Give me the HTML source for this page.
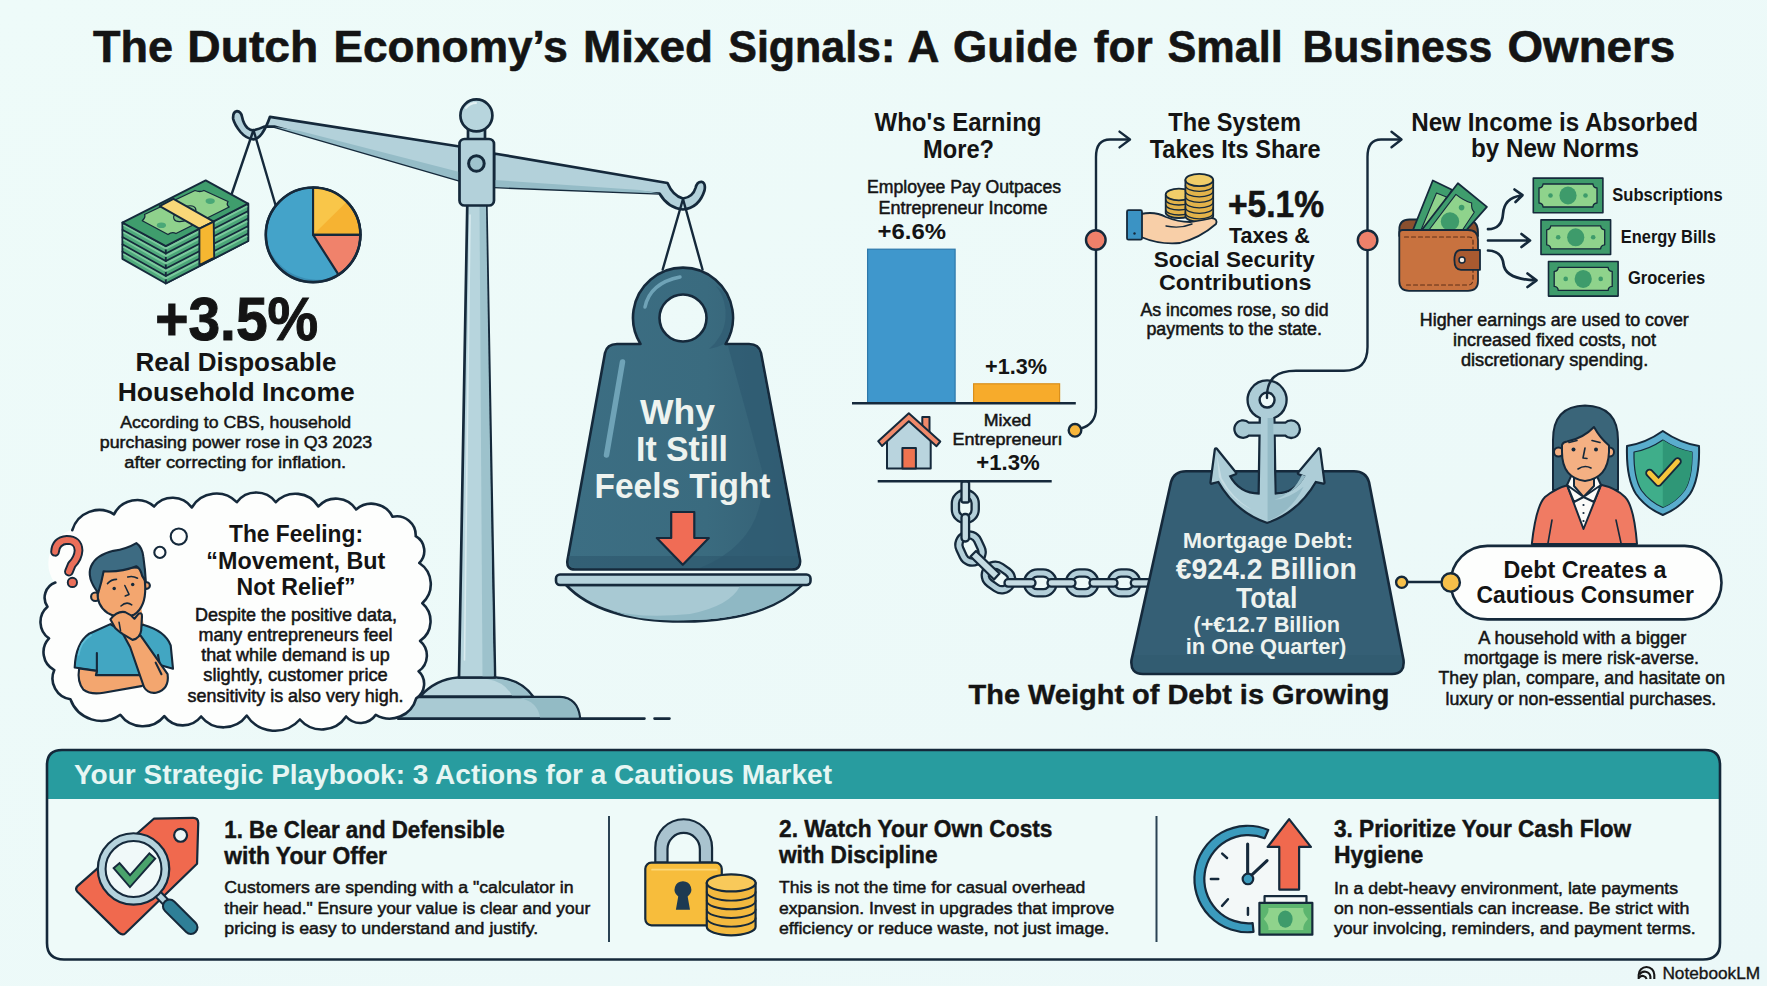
<!DOCTYPE html>
<html><head><meta charset="utf-8"><title>The Dutch Economy's Mixed Signals</title>
<style>
html,body{margin:0;padding:0;background:#eef8f8;}
body{width:1767px;height:986px;overflow:hidden;font-family:"Liberation Sans",sans-serif;}
svg{display:block;}
text{font-family:"Liberation Sans",sans-serif;fill:#141414;}
.b{font-weight:bold;}
.m{text-anchor:middle;}
</style></head><body>
<svg width="1767" height="986" viewBox="0 0 1767 986">
<defs>
<linearGradient id="bgg" x1="0" y1="0" x2="1" y2="1"><stop offset="0" stop-color="#eefbf9"/><stop offset="1" stop-color="#ebf8f8"/></linearGradient>
</defs>
<rect width="1767" height="986" fill="url(#bgg)"/>

<g class="b" font-size="43.5" stroke="#141414" stroke-width="0.6">
<text x="93.1" y="62" class="b" textLength="80.0" lengthAdjust="spacingAndGlyphs">The</text>
<text x="187.3" y="62" class="b" textLength="130.9" lengthAdjust="spacingAndGlyphs">Dutch</text>
<text x="333.5" y="62" class="b" textLength="234.3" lengthAdjust="spacingAndGlyphs">Economy’s</text>
<text x="583.1" y="62" class="b" textLength="129.9" lengthAdjust="spacingAndGlyphs">Mixed</text>
<text x="728.3" y="62" class="b" textLength="167.0" lengthAdjust="spacingAndGlyphs">Signals:</text>
<text x="907.6" y="62" class="b" textLength="31.9" lengthAdjust="spacingAndGlyphs">A</text>
<text x="953.0" y="62" class="b" textLength="124.6" lengthAdjust="spacingAndGlyphs">Guide</text>
<text x="1093.8" y="62" class="b" textLength="58.9" lengthAdjust="spacingAndGlyphs">for</text>
<text x="1167.4" y="62" class="b" textLength="115.3" lengthAdjust="spacingAndGlyphs">Small</text>
<text x="1302.4" y="62" class="b" textLength="189.8" lengthAdjust="spacingAndGlyphs">Business</text>
<text x="1507.5" y="62" class="b" textLength="167.8" lengthAdjust="spacingAndGlyphs">Owners</text>
</g>

<g class="m">
<text x="236.7" y="340" class="b m" font-size="61" textLength="163" lengthAdjust="spacingAndGlyphs" stroke="#141414" stroke-width="1">+3.5%</text>
<text x="236" y="371.3" class="b m" font-size="25.2" textLength="201" lengthAdjust="spacingAndGlyphs">Real Disposable</text>
<text x="236.2" y="400.7" class="b m" font-size="25.2" textLength="237" lengthAdjust="spacingAndGlyphs">Household Income</text>
<text x="235.7" y="427.7" class="m" font-size="17.4" textLength="231" lengthAdjust="spacingAndGlyphs" stroke="#141414" stroke-width="0.500">According to CBS, household</text>
<text x="236" y="448.3" class="m" font-size="17.4" textLength="272.5" lengthAdjust="spacingAndGlyphs" stroke="#141414" stroke-width="0.500">purchasing power rose in Q3 2023</text>
<text x="235.2" y="467.7" class="m" font-size="17.4" textLength="222" lengthAdjust="spacingAndGlyphs" stroke="#141414" stroke-width="0.500">after correcting for inflation.</text>
</g>

<g stroke="#15293b" stroke-width="2.7" stroke-linejoin="round" stroke-linecap="round">
<!-- ground line -->
<path d="M400 718.6 H644.5 M654.5 718.6 H669.5" fill="none" stroke-width="2.6"/>
<!-- base plate -->
<path d="M398 718.6 V697 H560 Q578 698 580 718.6 Z" fill="#a9cad3"/>
<path d="M520 698 Q538 702 540 717.5 H579 Q577 699 560 698 Z" fill="#93bbc5" stroke="none"/>
<!-- dome -->
<path d="M420 696.5 Q436 679 458 677.5 H496 Q520 679 533 696.5 Z" fill="#bad6de"/>
<path d="M487 679 Q505 682 512 695.5 H531 Q519 680 496 678.7 Z" fill="#9cc1cb" stroke="none"/>
<!-- pole -->
<path d="M467.3 204 L459 677.5 H495 L486.3 204 Z" fill="#b7d5dd"/>
<path d="M479.5 206 L482.5 676.3 H493.7 L486 206 Z" fill="#9dc2cc" stroke="none"/>
<path d="M470 215 L464.5 660" stroke="#d9ebef" stroke-width="1.6" fill="none"/>
<!-- left beam -->
<path d="M459.500 146.500 L270 116.800 Q266.500 127 262 133.500 Q258 139 253.500 139.400 Q246 138.500 240.500 132 Q234.500 124.500 233.200 119 Q232.500 112 237 111.200 Q241 111.500 242.100 117 Q243.500 124 247.500 128 Q250.500 130.500 253.600 130.300 Q259 129 264.100 126.600 L274.400 126.600 L459.500 180.500 Z" fill="#b3d1da"/>
<path d="M459.500 172 L300 131 L274.400 126.800 L459.500 180.500 Z" fill="#95bcc7" stroke="none"/>
<!-- right beam -->
<path d="M494 153.5 L667.5 183 Q673 196 683 198.5 Q693 197 695.5 188 Q697 181.5 701.5 181.8 Q706 183 704.5 190.5 Q699 208 683 209.5 Q668 208 659.5 193.5 L494 187 Z" fill="#b3d1da"/>
<path d="M494 180 L640 190 L659.5 193.5 L494 187 Z" fill="#95bcc7" stroke="none"/>
<!-- ball + neck -->
<rect x="468" y="127" width="17" height="15" fill="#b7d5dd"/>
<circle cx="476.4" cy="115.4" r="16" fill="#b7d5dd"/>
<path d="M466 108 Q470 103 476 103" stroke="#e3f1f4" stroke-width="2" fill="none"/>
<!-- hub -->
<rect x="459.5" y="139" width="34.5" height="66.5" rx="5" fill="#b3d1da"/>
<circle cx="476.4" cy="163.5" r="7.8" fill="#9fc3cd" stroke-width="3"/>
<!-- strings left -->
<path d="M253.500 130 L231.700 194 M253.500 130 L275.500 205" fill="none" stroke-width="2.4"/>
<!-- strings right -->
<path d="M683 199 L662.7 269.5 M683 199 L702.5 269.5" fill="none" stroke-width="2.4"/>
</g>

<defs>
<linearGradient id="wg" x1="0" y1="0" x2="1" y2="0"><stop offset="0" stop-color="#3c6e83"/><stop offset="0.6" stop-color="#3a6b7f"/><stop offset="1" stop-color="#345f74"/></linearGradient>
</defs>
<g stroke="#15293b" stroke-width="2.6" stroke-linejoin="round" stroke-linecap="round">
<!-- pan -->
<path d="M566 585 Q600 621 683 621.5 Q766 621 802 585 Z" fill="#a8c9d3"/>
<path d="M740 586 Q730 606 690 614 Q640 619 610 610 Q640 622 683 620.3 Q764 620 799.5 586 Z" fill="#8fb8c4" stroke="none"/>
<rect x="556" y="574.5" width="254.5" height="10.5" rx="4" fill="#b5d3dc"/>
<!-- weight body + ring -->
<path fill-rule="evenodd" fill="url(#wg)" d="M617 344 H640.5 A50 50 0 1 1 725.5 344 H749 Q759 344 761 353 L800 560 Q801 569.5 792 569.5 H575 Q566 569.5 567.5 560 L605 353 Q607 344 617 344 Z M683 294.5 A23.5 23.5 0 1 0 683 341.5 A23.5 23.5 0 1 0 683 294.5 Z"/>
<!-- shading -->
<path d="M728 346 H749 Q758 346 759.5 353 L798.5 560 Q799 568 792 568 H700 Q768 540 762 470 Z" fill="#2f5b72" stroke="none" opacity="0.75"/>
<path d="M568.5 556 L569 562 Q569 568 576 568 H792 Q799 568 798.5 560 L798 556 Z" fill="#2d566c" stroke="none" opacity="0.6"/>
<path d="M716 286 A45 45 0 0 1 709 349 A49 49 0 0 0 724 344 A48 48 0 0 0 723 291 Z" fill="#2f5b72" stroke="none" opacity="0.7"/>
<!-- highlights -->
<path d="M622.500 362 L606.500 455" stroke="#6fa3b7" stroke-width="5.500" fill="none"/>
<path d="M645 307 Q650 283 680 277" stroke="#6fa3b7" stroke-width="3.5" fill="none"/>
<!-- arrow -->
<path d="M671.200 512 H694.300 V538 H708.800 L682.800 564.800 L656.800 538 H671.200 Z" fill="#f06c55" stroke-width="2.200"/>
</g>
<g class="b m" style="fill:#eef3ef">
<text x="677.5" y="423.5" class="b m" font-size="34.200" textLength="75" lengthAdjust="spacingAndGlyphs" style="fill:#eef3ef">Why</text>
<text x="682" y="461" class="b m" font-size="34.200" textLength="92" lengthAdjust="spacingAndGlyphs" style="fill:#eef3ef">It Still</text>
<text x="682.5" y="497.5" class="b m" font-size="34.200" textLength="176" lengthAdjust="spacingAndGlyphs" style="fill:#eef3ef">Feels Tight</text>
</g>

<g stroke="#15293b" stroke-width="2.2" stroke-linejoin="round" stroke-linecap="round">
<!-- pie -->
<circle cx="313.1" cy="234.8" r="47.3" fill="#44a3c9"/>
<path d="M268 246 A47 47 0 0 0 336 276 A52 52 0 0 1 268 246 Z" fill="#3a8db3" stroke="none"/>
<path d="M313.1 234.8 V187.5 A47.3 47.3 0 0 1 360.4 234.8 Z" fill="#f6b332"/>
<path d="M314.5 233.5 V189 A46 46 0 0 1 346 202.5 Z" fill="#f9c649" stroke="none"/>
<path d="M313.1 234.8 H360.4 A47.3 47.3 0 0 1 338.5 274.7 Z" fill="#f0826b"/>
<circle cx="313.1" cy="234.8" r="47.3" fill="none" stroke-width="2.6"/>
<!-- money stack -->
<g stroke-width="1.9">
<path d="M122.400 222.600 V258.800 L165.800 283.500 L248.200 241 V203.600 L165.800 246.100 Z" fill="#4faa7c"/>
<path d="M165.800 246.100 V283.500 L248.200 241 V203.600 Z" fill="#4ba678"/>
<g fill="none" stroke="#7cc99d" stroke-width="2.200" stroke-linecap="butt">
<path d="M123.500 224.9 L165.800 248.4 L247.200 205.9 M123.500 232.1 L165.800 255.9 L247.200 213.4 M123.500 239.4 L165.800 263.4 L247.200 220.9 M123.500 246.6 L165.800 270.8 L247.200 228.3 M123.500 253.9 L165.800 278.3 L247.200 235.8 "/>
</g>
<g fill="none" stroke-width="1.700">
<path d="M122.400 229.8 L165.800 253.6 L248.200 211.1 M122.400 237.1 L165.800 261.1 L248.200 218.6 M122.400 244.3 L165.800 268.5 L248.200 226.0 M122.400 251.6 L165.800 276.0 L248.200 233.5 "/>
</g>
<path d="M122.400 222.600 L205.700 180.400 L248 203.600 L165.800 246.100 Z" fill="#3f9d6d"/>
<path d="M142.300 220.700 Q146 217 144.500 214.500 L195 190.500 Q200 192.500 204 190.500 L228 201.500 Q226 205 229.200 207 L176 233.500 Q172 231.500 168 234.500 L142.300 220.700 Z" fill="#8fd18c" stroke-width="1.300"/>
<ellipse cx="161.400" cy="225.200" rx="4.600" ry="2.800" fill="#4aa877" stroke="none"/>
<ellipse cx="210.200" cy="201.100" rx="4.600" ry="2.800" fill="#4aa877" stroke="none"/>
<ellipse cx="184.800" cy="213.700" rx="12" ry="6.500" fill="#7cc483" stroke-width="1.200" transform="rotate(-27 184.800 213.700)"/>
<path d="M159.700 206.100 L173.400 198.900 L213.700 221.700 L199.400 228.600 Z" fill="#f9d878"/>
<path d="M199.400 228.600 L213.700 221.700 L214.200 257.500 L199.400 265.100 Z" fill="#f5b731"/>
</g>
</g>

<path d="M72.3 530.2 A28.0 28.0 0 0 1 114.0 514.3 A25.8 25.8 0 0 1 154.1 506.5 A23.8 23.8 0 0 1 191.8 507.5 A28.6 28.6 0 0 1 236.8 502.2 A24.5 24.5 0 0 1 275.8 502.2 A27.0 27.0 0 0 1 318.4 506.5 A23.8 23.8 0 0 1 356.1 509.5 A23.5 23.5 0 0 1 392.6 516.8 A19.0 19.0 0 0 1 415.7 536.2 A17.0 17.0 0 0 1 419.3 563.0 A25.4 25.4 0 0 1 422.3 603.2 A23.8 23.8 0 0 1 420.1 640.9 A19.2 19.2 0 0 1 418.6 671.3 A17.1 17.1 0 0 1 416.2 698.3 A27.5 27.5 0 0 1 375.8 714.8 A18.7 18.7 0 0 1 346.1 716.5 A29.2 29.2 0 0 1 299.9 719.5 A33.5 33.5 0 0 1 246.8 715.6 A28.8 28.8 0 0 1 201.1 716.5 A23.2 23.2 0 0 1 164.3 716.1 A27.8 27.8 0 0 1 120.3 714.8 A32.9 32.9 0 0 1 70.4 699.3 A21.0 21.0 0 0 1 54.3 670.1 A20.2 20.2 0 0 1 49.0 638.4 A20.0 20.0 0 0 1 47.5 606.8 A16.1 16.1 0 0 1 55.3 582.5 A34.7 34.7 0 0 1 72.3 530.2 Z" fill="#fdfefd" stroke="#fdfefd" stroke-width="1.5"/>
<path d="M72.3 530.2 A28.0 28.0 0 0 1 114.0 514.3 A25.8 25.8 0 0 1 154.1 506.5 A23.8 23.8 0 0 1 191.8 507.5 A28.6 28.6 0 0 1 236.8 502.2 A24.5 24.5 0 0 1 275.8 502.2 A27.0 27.0 0 0 1 318.4 506.5 A23.8 23.8 0 0 1 356.1 509.5 A23.5 23.5 0 0 1 392.6 516.8 A19.0 19.0 0 0 1 415.7 536.2 A17.0 17.0 0 0 1 419.3 563.0 A25.4 25.4 0 0 1 422.3 603.2 A23.8 23.8 0 0 1 420.1 640.9 A19.2 19.2 0 0 1 418.6 671.3 A17.1 17.1 0 0 1 416.2 698.3 A27.5 27.5 0 0 1 375.8 714.8 A18.7 18.7 0 0 1 346.1 716.5 A29.2 29.2 0 0 1 299.9 719.5 A33.5 33.5 0 0 1 246.8 715.6 A28.8 28.8 0 0 1 201.1 716.5 A23.2 23.2 0 0 1 164.3 716.1 A27.8 27.8 0 0 1 120.3 714.8 A32.9 32.9 0 0 1 70.4 699.3 A21.0 21.0 0 0 1 54.3 670.1 A20.2 20.2 0 0 1 49.0 638.4 A20.0 20.0 0 0 1 47.5 606.8 A16.1 16.1 0 0 1 55.3 582.5 " fill="none" stroke="#15293b" stroke-width="2.6" stroke-linejoin="round" stroke-linecap="round"/>
<g transform="translate(40,520) scale(0.19277)" stroke="#15293b" stroke-width="11" stroke-linejoin="round" stroke-linecap="round">
<!-- question mark -->
<path d="M78 165 Q82 108 140 103 Q198 103 200 158 Q198 198 165 232 L150 268" fill="none" stroke-width="50"/>
<path d="M78 165 Q82 108 140 103 Q198 103 200 158 Q198 198 165 232 L150 268" fill="none" stroke="#ea6f5a" stroke-width="30"/>
<circle cx="168" cy="324" r="24" fill="#ea6f5a" stroke-width="10"/>
<!-- thought circles -->
<circle cx="720" cy="86" r="42" fill="#fdfefd"/>
<circle cx="622" cy="168" r="29" fill="#fdfefd"/>
<!-- neck -->
<path d="M372 470 L365 560 L540 560 L525 450 Z" fill="#f3a66f" stroke="none"/>
<!-- shirt -->
<path d="M180 765 Q185 640 255 590 L365 540 Q450 600 535 543 Q650 575 678 650 L690 772 L622 752 L605 805 L290 805 L295 782 Z" fill="#42a6c2"/>
<path d="M200 700 Q210 630 265 598" fill="none" stroke="#5fbdd6" stroke-width="9"/>
<path d="M295 690 L295 782 M622 752 L612 700" fill="none"/>
<!-- left arm folded -->
<path d="M203 770 Q192 840 225 880 Q262 908 330 896 L525 862 Q562 850 545 805 L290 805 L295 783 Z" fill="#f3a66f"/>
<!-- right forearm -->
<path d="M430 590 L522 600 L662 800 Q672 880 602 896 Q560 902 540 868 L468 660 Z" fill="#f3a66f"/>
<path d="M600 740 L630 800" fill="none"/>
<!-- ears -->
<circle cx="287" cy="398" r="22" fill="#f3a66f"/>
<circle cx="553" cy="340" r="17" fill="#f3a66f"/>
<!-- face -->
<path d="M300 370 Q292 440 350 482 Q420 522 490 490 Q548 450 546 350 L540 250 Q450 240 330 260 Z" fill="#f3a66f"/>
<!-- hair -->
<path d="M302 378 Q240 300 265 240 Q290 182 380 160 Q450 150 500 120 Q530 140 536 190 Q546 260 549 322 L530 290 Q520 250 500 240 Q420 272 330 266 Q320 322 302 378 Z" fill="#3d6b82"/>
<!-- hand -->
<path d="M365 515 Q400 470 442 478 Q470 490 490 512 L512 486 Q530 478 529 500 L525 572 Q520 612 480 622 L430 592 Q402 572 390 560 Z" fill="#f3a66f"/>
<path d="M410 530 L418 575" fill="none" stroke-width="8"/>
<!-- features -->
<circle cx="385" cy="355" r="9" fill="#15293b" stroke="none"/>
<circle cx="481" cy="335" r="9" fill="#15293b" stroke="none"/>
<path d="M350 330 Q370 308 397 308 M455 296 Q480 288 506 302 M440 340 L462 386 L442 394 M420 446 Q448 420 476 440" fill="none" stroke-width="8"/>
</g>
<g>
<text x="296" y="542.100" class="b m" font-size="24" textLength="134" lengthAdjust="spacingAndGlyphs">The Feeling:</text>
<text x="295.8" y="568.900" class="b m" font-size="24" textLength="179" lengthAdjust="spacingAndGlyphs">“Movement, But</text>
<text x="296" y="594.700" class="b m" font-size="24" textLength="119" lengthAdjust="spacingAndGlyphs">Not Relief”</text>
<g stroke="#141414" stroke-width="0.550">
<text x="296" y="621.300" class="m" font-size="18.600" textLength="202" lengthAdjust="spacingAndGlyphs">Despite the positive data,</text>
<text x="295.5" y="641.300" class="m" font-size="18.600" textLength="194" lengthAdjust="spacingAndGlyphs">many entrepreneurs feel</text>
<text x="295.4" y="661.400" class="m" font-size="18.600" textLength="188.5" lengthAdjust="spacingAndGlyphs">that while demand is up</text>
<text x="295.5" y="681.400" class="m" font-size="18.600" textLength="184.5" lengthAdjust="spacingAndGlyphs">slightly, customer price</text>
<text x="295.6" y="701.600" class="m" font-size="18.600" textLength="216" lengthAdjust="spacingAndGlyphs">sensitivity is also very high.</text>
</g>
</g>

<g>
<text x="958" y="131.300" class="b m" font-size="25.500" textLength="167" lengthAdjust="spacingAndGlyphs">Who's Earning</text>
<text x="958.500" y="157.500" class="b m" font-size="25.500" textLength="71" lengthAdjust="spacingAndGlyphs">More?</text>
<g stroke="#141414" stroke-width="0.500">
<text x="964" y="193" class="m" font-size="17.6" textLength="194" lengthAdjust="spacingAndGlyphs">Employee Pay Outpaces</text>
<text x="963" y="213.5" class="m" font-size="17.6" textLength="169" lengthAdjust="spacingAndGlyphs">Entrepreneur Income</text>
</g>
<text x="877.500" y="238.800" class="b" font-size="22" textLength="68.500" lengthAdjust="spacingAndGlyphs">+6.6%</text>
<rect x="867.6" y="249.2" width="87.5" height="153.5" fill="#3f97cc" stroke="#2d78aa" stroke-width="1.2"/>
<rect x="973.6" y="383.8" width="86" height="19" fill="#f7ab2b" stroke="#d98f1c" stroke-width="1.2"/>
<line x1="852" y1="403.3" x2="1075.8" y2="403.3" stroke="#15293b" stroke-width="2.4"/>
<text x="1016" y="373.6" class="b m" font-size="21.5" textLength="62" lengthAdjust="spacingAndGlyphs">+1.3%</text>
<g stroke="#141414" stroke-width="0.500">
<text x="1007.5" y="425.6" class="m" font-size="17" textLength="47.5" lengthAdjust="spacingAndGlyphs">Mixed</text>
<text x="1007.6" y="444.5" class="m" font-size="17" textLength="110" lengthAdjust="spacingAndGlyphs">Entrepreneurı</text>
</g>
<text x="1008" y="470" class="b m" font-size="21.5" textLength="63.5" lengthAdjust="spacingAndGlyphs">+1.3%</text>
<line x1="877.7" y1="481.3" x2="1051.7" y2="481.3" stroke="#15293b" stroke-width="2.4"/>
<!-- house -->
<g stroke="#15293b" stroke-width="2" stroke-linejoin="round">
<rect x="922.3" y="417" width="7.2" height="18" fill="#f0896a"/>
<path d="M887 440 L908.8 420 L930.7 440 V468.5 H887 Z" fill="#b9d4de"/>
<path d="M908.8 413.3 L940.3 441.5 L936.5 446.2 L908.8 421.2 L882 446 L878.2 441.2 Z" fill="#f0896a"/>
<rect x="902.4" y="448" width="13.5" height="20.5" fill="#ee7350"/>
</g>
</g>

<g stroke="#15293b" stroke-width="2.3" stroke-linejoin="round" stroke-linecap="round">
<!-- ring helper: outer rounded rect with inner hole -->
<g fill="#b3cfd9">
<path fill-rule="evenodd" d="M965.3 490 a13.5 13.5 0 0 1 13.5 13.5 v6 a13.5 13.5 0 0 1 -27 0 v-6 a13.5 13.5 0 0 1 13.5 -13.5 Z M965.3 497 a6.3 6.3 0 0 0 -6.3 6.3 v6.4 a6.3 6.3 0 0 0 12.6 0 v-6.4 a6.3 6.3 0 0 0 -6.3 -6.3 Z"/>
<g transform="rotate(-25 970.5 548.5)"><path fill-rule="evenodd" d="M970.5 531 a13.5 13.5 0 0 1 13.5 13.5 v8 a13.5 13.5 0 0 1 -27 0 v-8 a13.5 13.5 0 0 1 13.5 -13.5 Z M970.5 538 a6.3 6.3 0 0 0 -6.3 6.3 v8.4 a6.3 6.3 0 0 0 12.6 0 v-8.4 a6.3 6.3 0 0 0 -6.3 -6.3 Z"/></g>
<g transform="rotate(-55 998.5 577.5)"><path fill-rule="evenodd" d="M998.5 560 a13.5 13.5 0 0 1 13.5 13.5 v8 a13.5 13.5 0 0 1 -27 0 v-8 a13.5 13.5 0 0 1 13.5 -13.5 Z M998.5 567 a6.3 6.3 0 0 0 -6.3 6.3 v8.4 a6.3 6.3 0 0 0 12.6 0 v-8.4 a6.3 6.3 0 0 0 -6.3 -6.3 Z"/></g>
<g id="hring"><path fill-rule="evenodd" d="M1024 582.9 a13.5 13.5 0 0 1 13.5 -13.5 h5.6 a13.5 13.5 0 0 1 0 27 h-5.6 a13.5 13.5 0 0 1 -13.5 -13.5 Z M1031 582.9 a6.3 6.3 0 0 0 6.3 6.3 h6 a6.3 6.3 0 0 0 0 -12.6 h-6 a6.3 6.3 0 0 0 -6.3 6.3 Z"/></g>
<use href="#hring" x="41.8"/>
<use href="#hring" x="83.7"/>
</g>
<g fill="#c6dce3">
<rect x="961.5" y="481.5" width="7.6" height="21" rx="2"/>
<rect x="961.5" y="514" width="7.6" height="27.5" rx="3.5"/>
<path d="M970.5 556.5 L976 551 L999.5 573.5 L994 579.5 Z"/>
<rect x="1004.5" y="579.2" width="31" height="7.4" rx="3.5"/>
<rect x="1047.5" y="579.2" width="28" height="7.4" rx="3.5"/>
<rect x="1089.5" y="579.2" width="28" height="7.4" rx="3.5"/>
<rect x="1130.8" y="579.2" width="22" height="7.4" rx="3.5"/>
</g>
</g>

<g stroke="#15293b" stroke-width="2.6" stroke-linejoin="round" stroke-linecap="round">
<path d="M1186 471.2 H1354 Q1366 471.2 1369 482 L1403.5 660 Q1405 674 1392 674 H1143 Q1130 674 1131.5 660 L1171 482 Q1174 471.2 1186 471.2 Z" fill="#355f75"/>
<path d="M1134 655 L1133 661 Q1132 672.5 1143 672.5 H1392 Q1403 672.5 1402 661 L1401 655 Z" fill="#2c5368" stroke="none" opacity="0.250"/>
<!-- anchor -->
<g transform="translate(1190,370) scale(0.16227)">
<defs>
<path id="anc_body" d="M437 291 A113 113 0 1 1 513 291 L520 768 Q650 770 712 652 L672 636 L795 490 L822 694 L772 682 Q665 870 475 935 Q285 870 178 682 L133 694 L160 490 L278 636 L238 652 Q300 770 430 768 Z"/>
<path id="anc_bar" d="M318 318 A47 47 0 0 1 360 332 H590 A47 47 0 1 1 590 398 H360 A47 47 0 1 1 318 318 Z"/>
</defs>
<use href="#anc_bar" fill="#15293b" stroke="#15293b" stroke-width="28" stroke-linejoin="round"/>
<use href="#anc_body" fill="#15293b" stroke="#15293b" stroke-width="28" stroke-linejoin="round"/>
<use href="#anc_bar" fill="#a9cad4" stroke="none"/>
<use href="#anc_body" fill="#adcdd7" stroke="none"/>
<path d="M478 296 H513 L520 770 Q650 772 712 654 L690 645 Q640 760 520 800 Q600 800 700 720 Q620 880 478 930 Z" fill="#94bac6" stroke="none"/>
<path d="M165 520 L178 660 Q250 800 380 860 Q260 790 195 665 Z" fill="#c6dde4" stroke="none"/>
<circle cx="475" cy="185" r="46" fill="#eefaf9" stroke="#15293b" stroke-width="15"/>
</g>
</g>
</g>
<g>
<text x="1268" y="548.300" class="b m" font-size="22.800" textLength="170.5" lengthAdjust="spacingAndGlyphs" style="fill:#eef3ef">Mortgage Debt:</text>
<text x="1266.3" y="579" class="b m" font-size="29.300" textLength="181" lengthAdjust="spacingAndGlyphs" style="fill:#eef3ef">€924.2 Billion</text>
<text x="1266.7" y="607.500" class="b m" font-size="29.300" textLength="61.5" lengthAdjust="spacingAndGlyphs" style="fill:#eef3ef">Total</text>
<text x="1266.7" y="632" class="b m" font-size="22.800" textLength="146.5" lengthAdjust="spacingAndGlyphs" style="fill:#eef3ef">(+€12.7 Billion</text>
<text x="1266" y="654.400" class="b m" font-size="22.800" textLength="160.5" lengthAdjust="spacingAndGlyphs" style="fill:#eef3ef">in One Quarter)</text>
<text x="968.5" y="704.2" class="b" font-size="28.5" textLength="421" lengthAdjust="spacingAndGlyphs" stroke="#141414" stroke-width="0.4">The Weight of Debt is Growing</text>
</g>

<g fill="none" stroke="#15293b" stroke-width="2.4" stroke-linecap="round" stroke-linejoin="round">
<!-- connector 1 -->
<path d="M1081 428.5 Q1096 424 1096 408 V157 Q1096 139.5 1110 139.5 H1129"/>
<path d="M1119.5 131.6 L1130 139.5 L1119.5 147.4"/>
<circle cx="1095.8" cy="240" r="9.8" fill="#ef806a"/>
<circle cx="1075" cy="430.3" r="6.3" fill="#f7b53a"/>
<!-- connector 2 -->
<path d="M1267 398 Q1266.500 384 1274 377 Q1281 370.700 1296 370.700 H1344 Q1367.500 370.700 1367.500 347 V157 Q1367.5 139.5 1381 139.5 H1400"/>
<path d="M1391.5 131.8 L1401.5 139.5 L1391.5 147.3"/>
<circle cx="1367.6" cy="240.3" r="9.8" fill="#ef806a"/>
<!-- weight to pill -->
<path d="M1407 582 H1442"/>
<circle cx="1401.7" cy="582.3" r="5.6" fill="#f7c04a"/>
</g>

<g>
<text x="1234.600" y="130.800" class="b m" font-size="25.200" textLength="132.6" lengthAdjust="spacingAndGlyphs">The System</text>
<text x="1235.200" y="158.100" class="b m" font-size="25.200" textLength="171" lengthAdjust="spacingAndGlyphs">Takes Its Share</text>
<text x="1276" y="216.500" class="b m" font-size="36.800" textLength="96" lengthAdjust="spacingAndGlyphs" stroke="#141414" stroke-width="0.6">+5.1%</text>
<text x="1269.4" y="243.300" class="b m" font-size="22.5" textLength="81" lengthAdjust="spacingAndGlyphs">Taxes &amp;</text>
<text x="1234.2" y="266.6" class="b m" font-size="22.5" textLength="161" lengthAdjust="spacingAndGlyphs">Social Security</text>
<text x="1235.2" y="289.700" class="b m" font-size="22.5" textLength="152.5" lengthAdjust="spacingAndGlyphs">Contributions</text>
<g stroke="#141414" stroke-width="0.500">
<text x="1234.5" y="315.6" class="m" font-size="17.6" textLength="188" lengthAdjust="spacingAndGlyphs">As incomes rose, so did</text>
<text x="1234.2" y="335.4" class="m" font-size="17.6" textLength="175.5" lengthAdjust="spacingAndGlyphs">payments to the state.</text>
</g>
<!-- hand + coins -->
<g stroke="#15293b" stroke-width="1.8" stroke-linejoin="round" stroke-linecap="round">
<!-- back coin stack -->
<g fill="#e2b34a">
<path d="M1165.7 195 V213 A13.2 5.5 0 0 0 1192 213 V195 Z"/>
<path d="M1165.7 200 A13.2 5.5 0 0 0 1192 200 M1165.7 205 A13.2 5.5 0 0 0 1192 205 M1165.7 210 A13.2 5.5 0 0 0 1192 210" fill="none" stroke-width="1.3"/>
<ellipse cx="1178.9" cy="194.5" rx="13.2" ry="5.8" fill="#f0cd69"/>
</g>
<!-- front coin stack -->
<g fill="#e2b34a">
<path d="M1185.4 180 V216 A13.9 5.8 0 0 0 1213.2 216 V180 Z"/>
<path d="M1185.4 185.5 A13.9 5.8 0 0 0 1213.2 185.5 M1185.4 191 A13.9 5.8 0 0 0 1213.2 191 M1185.4 196.5 A13.9 5.8 0 0 0 1213.2 196.5 M1185.4 202 A13.9 5.8 0 0 0 1213.2 202 M1185.4 207.500 A13.9 5.8 0 0 0 1213.2 207.5 M1185.4 213 A13.9 5.8 0 0 0 1213.2 213" fill="none" stroke-width="1.3"/>
<ellipse cx="1199.3" cy="180" rx="13.9" ry="6.2" fill="#f0cd69"/>
</g>
<!-- hand -->
<path d="M1141 214 Q1155 211 1166 217 Q1178 222 1190 222 Q1205 220 1212 218 Q1218 219 1216 224 Q1200 238 1180 243 Q1160 245 1141 237 Z" fill="#f8cfa8"/>
<path d="M1166 226 Q1180 229 1192 224" fill="none" stroke-width="1.4"/>
<!-- sleeve -->
<rect x="1127" y="210.2" width="15" height="29.5" rx="1.5" fill="#3b93c4"/>
<circle cx="1134.5" cy="233.5" r="1.2" fill="#15293b" stroke="none"/>
</g>
</g>

<g>
<text x="1554.6" y="131" class="b m" font-size="25" textLength="286.8" lengthAdjust="spacingAndGlyphs">New Income is Absorbed</text>
<text x="1555" y="157.300" class="b m" font-size="25" textLength="168" lengthAdjust="spacingAndGlyphs">by New Norms</text>
<text x="1612.3" y="200.8" class="b" font-size="18.5" textLength="110.4" lengthAdjust="spacingAndGlyphs">Subscriptions</text>
<text x="1620.8" y="242.8" class="b" font-size="18.5" textLength="95" lengthAdjust="spacingAndGlyphs">Energy Bills</text>
<text x="1627.9" y="284" class="b" font-size="18.5" textLength="77.2" lengthAdjust="spacingAndGlyphs">Groceries</text>
<g stroke="#141414" stroke-width="0.500">
<text x="1554.3" y="325.7" class="m" font-size="17.6" textLength="269" lengthAdjust="spacingAndGlyphs">Higher earnings are used to cover</text>
<text x="1554.5" y="346.2" class="m" font-size="17.6" textLength="203" lengthAdjust="spacingAndGlyphs">increased fixed costs, not</text>
<text x="1554.6" y="366.3" class="m" font-size="17.6" textLength="187.4" lengthAdjust="spacingAndGlyphs">discretionary spending.</text>
</g>
<!-- bills -->
<g id="bill" stroke="#15293b" stroke-linejoin="round">
<rect x="1533.3" y="178.1" width="69.6" height="34.6" fill="#3e9b6b" stroke-width="1.6"/>
<path d="M1543 184 H1593 Q1593 187.5 1597 188 V203 Q1593 203.500 1593 207 H1543 Q1543 203.500 1539 203 V188 Q1543 187.5 1543 184 Z" fill="#8fd38c" stroke-width="1.3"/>
<ellipse cx="1568" cy="195.5" rx="8.6" ry="9" fill="#3e9b6b" stroke="none"/>
<circle cx="1550.500" cy="195.5" r="2.3" fill="#3e9b6b" stroke="none"/>
<circle cx="1585.5" cy="195.5" r="2.3" fill="#3e9b6b" stroke="none"/>
</g>
<use href="#bill" x="7.7" y="41.8"/>
<use href="#bill" x="15.2" y="83.4"/>
<!-- arrows from wallet -->
<g fill="none" stroke="#15293b" stroke-width="2.700" stroke-linecap="round" stroke-linejoin="round">
<path d="M1488 229.2 Q1502 229 1503 214 Q1504 198 1521 195.5 M1514.5 189.5 L1522.500 195.2 L1515.5 202"/>
<path d="M1488 240.5 H1529 M1521.500 234 L1530 240.5 L1521.500 247"/>
<path d="M1488 250.5 Q1502 251 1503.500 264 Q1505 279 1535 280.3 M1527.500 273.500 L1536.500 280.3 L1527.500 287"/>
</g>
<!-- wallet -->
<g stroke="#15293b" stroke-width="1.8" stroke-linejoin="round" stroke-linecap="round">
<path d="M1399.300 236 V229.500 Q1399.300 219.500 1409.500 219.500 H1467 Q1478 220.500 1478 232 V236 Z" fill="#8a4f2e"/>
<path d="M1413 230 L1432.800 180.500 L1452 189.800 L1430 232 Z" fill="#3f9d6d"/>
<path d="M1421 230 L1436.500 193 L1446.500 197 L1428 232 Z" fill="#8fd38c" stroke-width="1.100"/>
<path d="M1421 231 L1457.900 183.200 L1486.900 206.900 L1463.800 233 Z" fill="#3f9d6d"/>
<path d="M1428.200 231 L1455.900 194.400 Q1464 201 1471.700 203 Q1471 209 1474.300 212.200 L1461.800 231 Z" fill="#8fd38c" stroke-width="1.100"/>
<circle cx="1450" cy="221.400" r="9.200" fill="#3e9b6b" stroke="none"/>
<circle cx="1461.600" cy="207.600" r="2.800" fill="#3e9b6b" stroke="none"/>
<path d="M1399.300 233 Q1399.300 230 1402.500 230 H1468 Q1478 230 1478 240 V281 Q1478 290.800 1468 290.800 H1409 Q1399.300 290.800 1399.300 281 Z" fill="#c8723f"/>
<path d="M1404.500 237 H1469 Q1473 237 1473 241 V279 Q1473 285 1468 285 H1404.500" fill="none" stroke="#5e2f18" stroke-width="1.2" stroke-dasharray="4 3"/>
<path d="M1461 250 H1480 V269.800 H1461 Q1454.400 269.800 1454.400 260 Q1454.400 250 1461 250 Z" fill="#a95a30"/>
<circle cx="1462" cy="260" r="3" fill="#f4ece2" stroke-width="1.5"/>
</g>
</g>

<g>
<!-- woman -->
<g stroke="#15293b" stroke-width="2" stroke-linejoin="round" stroke-linecap="round">
<path d="M1553 490 V440 Q1553 406 1585 405.500 Q1618 406 1618 440 V490 Z" fill="#3a6579"/>
<path d="M1531.800 544 Q1536 506 1545 497 Q1556 488 1570 484.500 L1600 484.500 Q1616 488 1625 497 Q1634 506 1637 544 Z" fill="#f07b63"/>
<path d="M1567 485 L1583.500 529 L1601 485 L1595 472 H1573 Z" fill="#fbfbf8"/>
<path d="M1574 470 V486 L1583.500 497 L1594 486 V470 Z" fill="#f4b083"/>
<path d="M1567 485 L1574 502 L1583.500 497 Z M1601 485 L1594 502 L1583.500 497 Z" fill="#fbfbf8"/>
<circle cx="1558.500" cy="452" r="4.500" fill="#f4b083"/>
<circle cx="1609.500" cy="452" r="4.500" fill="#f4b083"/>
<path d="M1562 452 V445 Q1563 442 1567 441.500 Q1583 438.500 1594 427 Q1600 438 1609 445.500 V452 Q1608 478 1585 481 Q1562 478 1562 452 Z" fill="#f4b083"/>
<path d="M1548 543 L1552 520 M1621 543 L1616 520" fill="none" stroke-width="1.600"/>
<circle cx="1573.500" cy="449.500" r="2" fill="#15293b" stroke="none"/>
<circle cx="1596" cy="449.500" r="2" fill="#15293b" stroke="none"/>
<circle cx="1583.500" cy="505" r="1.100" fill="#15293b" stroke="none"/><circle cx="1583.500" cy="513" r="1.100" fill="#15293b" stroke="none"/><circle cx="1583.500" cy="521" r="1.100" fill="#15293b" stroke="none"/>
<path d="M1569 442.500 L1577 440.500 M1592 440.500 L1600 442.500 M1585 448 L1583 458 L1587 458.500 M1578 469 Q1584.500 464.500 1591 468" fill="none" stroke-width="1.600"/>
</g>
<!-- shield -->
<g stroke="#15293b" stroke-width="2" stroke-linejoin="round" stroke-linecap="round">
<path d="M1662.800 431 Q1680 443 1699 446 Q1700 478 1690 494 Q1680 508 1662.800 515 Q1646 508 1636 494 Q1626 478 1627 446 Q1646 443 1662.800 431 Z" fill="#5aadcd"/>
<path d="M1662.800 440 Q1677 449.500 1692 452 Q1692.500 478 1684.500 490.500 Q1676 502 1662.800 507.500 Q1650 502 1641.500 490.500 Q1633.500 478 1634 452 Q1649 449.500 1662.800 440 Z" fill="#3fae8a" stroke-width="1.200"/>
<path d="M1662.800 440 Q1677 449.500 1692 452 Q1692.500 478 1684.500 490.500 Q1676 502 1662.800 507.500 Z" fill="#2f9777" stroke="none"/>
<path d="M1649.500 473 L1658.500 482.500 L1677.500 461.500" fill="none" stroke-width="8.500"/>
<path d="M1649.500 473 L1658.500 482.500 L1677.500 461.500" fill="none" stroke="#f7c63c" stroke-width="4.800"/>
</g>
<!-- pill -->
<rect x="1450.700" y="545.900" width="270.800" height="73.500" rx="36.750" fill="#fdfefd" stroke="#15293b" stroke-width="2.600"/>
<circle cx="1450.700" cy="582.400" r="9.200" fill="#f7c04a" stroke="#15293b" stroke-width="2.400"/>
<text x="1585" y="578" class="b m" font-size="23" textLength="163" lengthAdjust="spacingAndGlyphs">Debt Creates a</text>
<text x="1585.200" y="603.200" class="b m" font-size="23" textLength="217.300" lengthAdjust="spacingAndGlyphs">Cautious Consumer</text>
<g stroke="#141414" stroke-width="0.500">
<text x="1582.300" y="643.500" class="m" font-size="17.6" textLength="208" lengthAdjust="spacingAndGlyphs">A household with a bigger</text>
<text x="1581.400" y="664.200" class="m" font-size="17.6" textLength="235.200" lengthAdjust="spacingAndGlyphs">mortgage is mere risk-averse.</text>
<text x="1581.800" y="684.200" class="m" font-size="17.6" textLength="286.400" lengthAdjust="spacingAndGlyphs">They plan, compare, and hasitate on</text>
<text x="1580.900" y="704.600" class="m" font-size="17.6" textLength="270.800" lengthAdjust="spacingAndGlyphs">luxury or non-essential purchases.</text>
</g>
</g>

<g>
<path d="M62 750 H1705 Q1720 750 1720 765 V943 Q1720 959.5 1703 959.5 H64 Q47 959.5 47 943 V765 Q47 750 62 750 Z" fill="#eefaf9"/>
<path d="M62 750 H1705 Q1720 750 1720 765 V799 H47 V765 Q47 750 62 750 Z" fill="#289c9f"/>
<path d="M62 750 H1705 Q1720 750 1720 765 V943 Q1720 959.5 1703 959.5 H64 Q47 959.5 47 943 V765 Q47 750 62 750 Z" fill="none" stroke="#14283a" stroke-width="2.6"/>
<text x="74" y="784" class="b" font-size="27.8" textLength="758" lengthAdjust="spacingAndGlyphs" style="fill:#e6f6f3">Your Strategic Playbook: 3 Actions for a Cautious Market</text>
<line x1="609" y1="816" x2="609" y2="942" stroke="#2a4254" stroke-width="2"/>
<line x1="1156.5" y1="816" x2="1156.5" y2="942" stroke="#2a4254" stroke-width="2"/>
</g>

<g>
<!-- item 1 icon: tag + magnifier (zoomed coords 6.8x) -->
<g transform="translate(60,805) scale(0.14706)" stroke="#15293b" stroke-width="15" stroke-linejoin="round" stroke-linecap="round">
<path d="M640 92 L905 88 Q940 88 940 122 L932 400 L445 872 Q425 890 400 868 L118 590 Q100 570 120 550 Z" fill="#f0694e"/>
<circle cx="820" cy="206" r="44" fill="#edf7f7"/>
<path d="M668 608 L742 684" stroke-width="62" fill="none"/>
<path d="M668 608 L742 684" stroke="#b5d3dd" stroke-width="34" fill="none"/>
<path d="M745 688 L890 832" stroke-width="104" fill="none"/>
<path d="M745 688 L890 832" stroke="#2f7f97" stroke-width="76" fill="none"/>
<circle cx="500" cy="435" r="243" fill="#b5d3dd"/>
<circle cx="500" cy="435" r="190" fill="#f0f9f9" stroke-width="14"/>
<path d="M402 432 L476 518 L610 366" fill="none" stroke-width="66" stroke-linecap="square" stroke-linejoin="miter"/>
<path d="M389 416.800 L476 518 L623.200 351" fill="none" stroke="#4aa36c" stroke-width="40" stroke-linecap="butt" stroke-linejoin="miter"/>
</g>
<!-- item 2 icon: lock + coins -->
<g transform="translate(630,805) scale(0.14706)" stroke="#15293b" stroke-width="15" stroke-linejoin="round" stroke-linecap="round">
<path d="M172 392 V290 A193 193 0 0 1 558 290 V392 H475 V300 A110 110 0 0 0 255 300 V392 Z" fill="#a9c3cf"/>
<rect x="104" y="392" width="520" height="426" rx="42" fill="#f7bd3c"/>
<path d="M150 440 H590" stroke="#fbd777" stroke-width="12" fill="none"/>
<path d="M360 518 A57 57 0 0 1 392 622 L408 712 H312 L328 622 A57 57 0 0 1 360 518 Z" fill="#1d3a52" stroke="none"/>
<g fill="#f3b93f">
<path d="M522 530 V828 A166 58 0 0 0 854 828 V530 Z"/>
<path d="M522 592 A166 58 0 0 0 854 592 M522 651 A166 58 0 0 0 854 651 M522 710 A166 58 0 0 0 854 710 M522 769 A166 58 0 0 0 854 769" fill="none" stroke-width="13"/>
<ellipse cx="688" cy="530" rx="166" ry="58" fill="#f8c95a"/>
</g>
</g>
<!-- item 3 icon: clock + arrow + bill -->
<g transform="translate(1180,805) scale(0.14706)" stroke="#15293b" stroke-width="15" stroke-linejoin="round" stroke-linecap="round">
<circle cx="462" cy="503" r="300" fill="#f3f8f8" stroke="none"/>
<path d="M600.500 169.500 A362 362 0 1 0 500 863 L494 803 A300 300 0 1 1 576 225.500 Z" fill="#3b9bbd"/>
<path d="M460 265 V503 L592 378" fill="none" stroke-width="21"/>
<path d="M210 503 H260 M287 331 L320 360 M286 686 L326 641 M462 700 V746" fill="none" stroke-width="17"/>
<circle cx="462" cy="503" r="36" fill="#3b9bbd"/>
<path d="M742 96 L890 285 H810 V575 H675 V285 H596 Z" fill="#f0694e"/>
<rect x="575" y="620" width="285" height="60" fill="#f7fbfa"/>
<rect x="540" y="665" width="360" height="217" fill="#5cb56f"/>
<path d="M600 700 H840 Q830 730 870 775 Q830 820 840 850 H600 Q610 820 570 775 Q610 730 600 700 Z" fill="#8fd38c" stroke="none"/>
<ellipse cx="716" cy="776" rx="50" ry="58" fill="#3e9b6b" stroke="none"/>
</g>
<!-- texts -->
<text x="224.300" y="837.600" class="b" font-size="24" stroke="#141414" stroke-width="0.45" textLength="280.300" lengthAdjust="spacingAndGlyphs">1. Be Clear and Defensible</text>
<text x="224.300" y="863.600" class="b" font-size="24" stroke="#141414" stroke-width="0.45" textLength="162.700" lengthAdjust="spacingAndGlyphs">with Your Offer</text>
<text x="779" y="837.300" class="b" font-size="24" stroke="#141414" stroke-width="0.45" textLength="273.500" lengthAdjust="spacingAndGlyphs">2. Watch Your Own Costs</text>
<text x="779" y="863.400" class="b" font-size="24" stroke="#141414" stroke-width="0.45" textLength="158.500" lengthAdjust="spacingAndGlyphs">with Discipline</text>
<text x="1333.900" y="837.300" class="b" font-size="24" stroke="#141414" stroke-width="0.45" textLength="297.300" lengthAdjust="spacingAndGlyphs">3. Prioritize Your Cash Flow</text>
<text x="1333.900" y="863.200" class="b" font-size="24" stroke="#141414" stroke-width="0.45" textLength="89.300" lengthAdjust="spacingAndGlyphs">Hygiene</text>
<g stroke="#141414" stroke-width="0.500" font-size="17.300">
<text x="224.300" y="893.300" textLength="349.300" lengthAdjust="spacingAndGlyphs">Customers are spending with a "calculator in</text>
<text x="224.300" y="913.700" textLength="365.900" lengthAdjust="spacingAndGlyphs">their head." Ensure your value is clear and your</text>
<text x="224.300" y="933.800" textLength="314" lengthAdjust="spacingAndGlyphs">pricing is easy to understand and justify.</text>
<text x="779" y="893.200" textLength="306.300" lengthAdjust="spacingAndGlyphs">This is not the time for casual overhead</text>
<text x="779" y="913.700" textLength="335.300" lengthAdjust="spacingAndGlyphs">expansion. Invest in upgrades that improve</text>
<text x="779" y="934" textLength="330.100" lengthAdjust="spacingAndGlyphs">efficiency or reduce waste, not just image.</text>
<text x="1333.900" y="893.500" textLength="344.100" lengthAdjust="spacingAndGlyphs">In a debt-heavy environment, late payments</text>
<text x="1333.900" y="913.700" textLength="355.400" lengthAdjust="spacingAndGlyphs">on non-essentials can increase. Be strict with</text>
<text x="1333.900" y="934.300" textLength="361.800" lengthAdjust="spacingAndGlyphs">your involcing, reminders, and payment terms.</text>
</g>
<!-- NotebookLM -->
<g fill="none" stroke="#161616" stroke-width="2.1" stroke-linecap="butt">
<path d="M1638.7 979 V974.8 A7.8 7.8 0 0 1 1654.3 974.8 V979"/>
<path d="M1639.6 974.6 A5.8 5.8 0 0 1 1650.4 976.6 V979"/>
<path d="M1639.2 977.6 A4.2 4.2 0 0 1 1646.6 979"/>
</g>
<text x="1662.4" y="979" font-size="16.2" textLength="97.8" lengthAdjust="spacingAndGlyphs" style="fill:#161616" stroke="#161616" stroke-width="0.35">NotebookLM</text>
</g>

</svg>
</body></html>
